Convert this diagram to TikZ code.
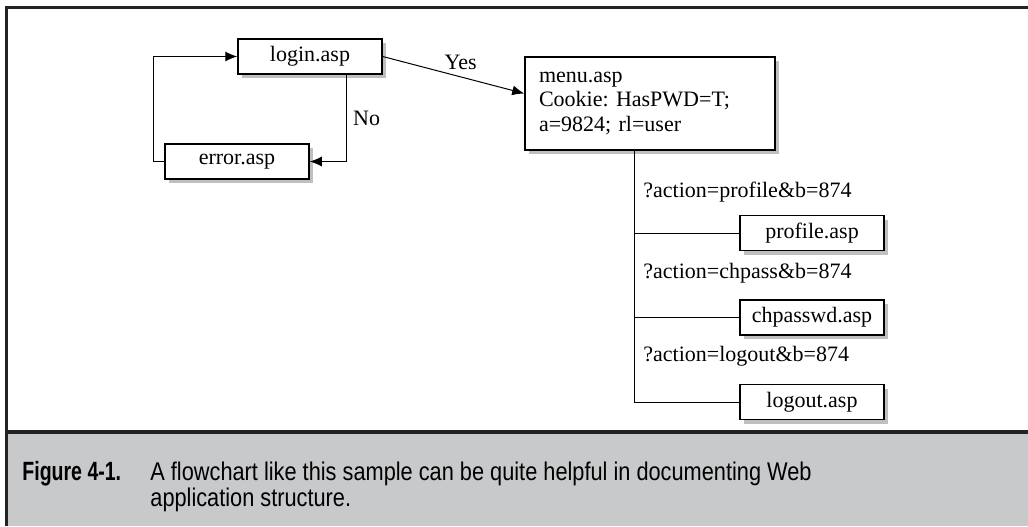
\documentclass[tikz,border=0pt]{standalone}
\usepackage{fontspec}
\setmainfont{Liberation Serif}
\newfontfamily\capfont[FakeStretch=0.85]{Liberation Sans}
\newfontfamily\capboldfont[FakeStretch=0.74]{Liberation Sans}
\usepackage{tikz}
\usetikzlibrary{arrows.meta,positioning,shadows}
\definecolor{capgray}{RGB}{200,201,203}
\definecolor{framegray}{RGB}{35,35,35}
\frenchspacing
\tikzset{
  page/.style = {font=\fontsize{11}{12.25}\selectfont},
  aspbox/.style = {draw=black, fill=white, line width=0.75pt,
    minimum width=72pt, minimum height=17.5pt, inner sep=0pt,
    drop shadow={shadow xshift=2pt, shadow yshift=-2pt, fill=black!25, opacity=1}},% one page of the site
  link/.style = {line width=0.5pt},% plain connector
  jump/.style = {link, -{Latex[length=6pt,width=5pt]}},% connector with a head
  query/.style = {anchor=west, inner sep=0pt},% query string of a branch
  capt/.style = {anchor=west, inner sep=0pt, align=left,
    font=\capfont\fontsize{12.8}{13}\selectfont}% caption text
}

\begin{document}
\begin{tikzpicture}[x=0.5pt, y=-0.5pt, page]
  \useasboundingbox (0,0) rectangle (1028,526);
  % frame and caption band
  \fill[capgray] (6,432) rectangle (1028,526);
  \draw[framegray, line width=1.5pt] (1028,7.5) -- (6,7.5) -- (6,526);
  \draw[framegray, line width=2pt] (6,432) -- (1028,432);
  \node[capt, font=\capboldfont\bfseries\fontsize{13.2}{13}\selectfont] (fig) at (22,474) {Figure 4-1.};
  \node[capt] (caption) at (150,487) {A flowchart like this sample can be quite helpful in documenting Web\\application structure.};

  % pages
  \node[aspbox] (login) at (310,56.5) {login.asp};
  \node[aspbox] (error) at (237,161.5) {error.asp};
  \node[aspbox, minimum width=125pt, minimum height=46.5pt, text width=111pt, align=left] (menu) at (650,103.5)
    {menu.asp\\Cookie: HasPWD=T;\\a=9824; rl=user};
  \node[aspbox] (profile) at (812,233) {profile.asp};
  \node[aspbox, below=24pt of profile] (chpass) {chpasswd.asp};
  \node[aspbox, below=24pt of chpass] (logout) {logout.asp};

  % login loop
  \draw[jump] (error.west) -- ++(-11,0) |- (login.west);
  \draw[jump] ([xshift=18pt]login.south) |- (error.east) node[pos=0.25, right] {No};
  \draw[jump] (login.east) -- ([yshift=5pt]menu.west) node[pos=0.55, above] {Yes};

  % menu branches
  \coordinate (trunk) at ([xshift=-8pt]menu.south);
  \draw[link] (trunk) |- (logout.west);
  \draw[link] (trunk |- profile.west) -- (profile.west);
  \draw[link] (trunk |- chpass.west) -- (chpass.west);
  \node[query] (qprofile) at (643,192) {?action=profile\&b=874};
  \node[query] (qchpass) at (643,273) {?action=chpass\&b=874};
  \node[query] (qlogout) at (643,356) {?action=logout\&b=874};
\end{tikzpicture}
\end{document}
